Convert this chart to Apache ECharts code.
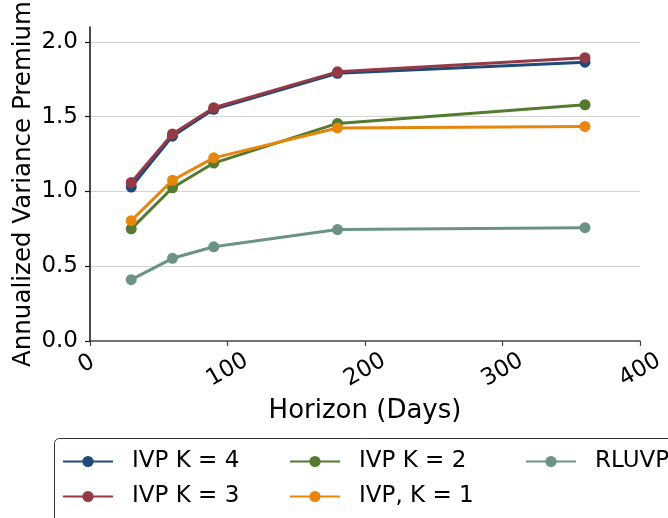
<!DOCTYPE html>
<html>
<head>
<meta charset="utf-8">
<script src="https://cdn.jsdelivr.net/npm/echarts@6/dist/echarts.min.js"></script>
<style>
  html, body { margin: 0; padding: 0; background: #fff; }
  #chart { width: 668px; height: 518px; }
</style>
</head>
<body>
<div id="chart"></div>
<script>
// Horizons in days
const horizons = [30, 60, 90, 180, 360];

// Annualized variance premium by model
const ivpK4 = [1.03, 1.37, 1.55, 1.79, 1.865];
const ivpK3 = [1.06, 1.385, 1.56, 1.80, 1.895];
const ivpK2 = [0.75, 1.025, 1.19, 1.455, 1.58];
const ivpK1 = [0.805, 1.075, 1.225, 1.425, 1.435];
const rluvp = [0.41, 0.553, 0.63, 0.745, 0.758];

const seriesNames = ['IVP K = 4', 'IVP K = 3', 'IVP K = 2', 'IVP, K = 1', 'RLUVP'];
const seriesValues = [ivpK4, ivpK3, ivpK2, ivpK1, rluvp];
const seriesColors = ['#1f4a78', '#943a46', '#537a2e', '#e8850c', '#6b9285'];

const yTicks = [0, 0.5, 1.0, 1.5, 2.0];

const FONT = 'DejaVu Sans';

const chart = echarts.init(document.getElementById('chart'), null, { renderer: 'canvas' });

const series = seriesNames.map((name, i) => ({
  name: name,
  type: 'line',
  data: horizons.map((h, j) => [h, seriesValues[i][j]]),
  symbol: 'circle',
  symbolSize: 11,
  color: seriesColors[i],
  lineStyle: { width: 3, color: seriesColors[i] },
  itemStyle: { color: seriesColors[i] },
  emphasis: { disabled: true },
  animation: false,
  z: 2 + i
}));

function legendColumn(names, left) {
  return {
    data: names,
    orient: 'vertical',
    left: left,
    top: 450,
    itemWidth: 50,
    itemHeight: 14,
    itemGap: 12,
    padding: 0,
    selectedMode: false,
    textStyle: {
      fontFamily: FONT,
      fontSize: 23,
      color: '#000',
      lineHeight: 23,
      padding: [0, 0, 0, 14]
    }
  };
}

const option = {
  backgroundColor: '#fff',
  animation: false,
  grid: { left: 90, right: 28, top: 27, bottom: 177, containLabel: false, outerBoundsMode: 'none' },
  xAxis: {
    type: 'value',
    min: 0,
    max: 400,
    interval: 100,
    name: 'Horizon (Days)',
    nameLocation: 'middle',
    nameGap: 57,
    nameMoveOverlap: false,
    nameTextStyle: { fontFamily: FONT, fontSize: 26, color: '#000' },
    axisLine: { show: true, lineStyle: { color: '#444', width: 1.5 } },
    axisTick: { show: true, length: 5, lineStyle: { color: '#444', width: 1.2 } },
    axisLabel: {
      rotate: 30,
      align: 'center',
      verticalAlign: 'middle',
      margin: 29,
      fontFamily: FONT,
      fontSize: 23,
      color: '#000',
      formatter: v => (v === 0 ? '{z|0}' : String(v)),
      rich: { z: { fontFamily: FONT, fontSize: 23, color: '#000', padding: [0, 0, 14, 0] } }
    },
    splitLine: { show: false }
  },
  yAxis: {
    type: 'value',
    min: 0,
    max: 2.1,
    interval: 0.5,
    name: 'Annualized Variance Premium',
    nameLocation: 'middle',
    nameGap: 54,
    nameMoveOverlap: false,
    nameTextStyle: { fontFamily: FONT, fontSize: 24.5, color: '#000' },
    axisLine: { show: true, lineStyle: { color: '#111', width: 1.5 } },
    axisTick: { show: true, length: 5, customValues: yTicks, lineStyle: { color: '#111', width: 1.2 } },
    axisLabel: {
      margin: 12,
      customValues: yTicks,
      fontFamily: FONT,
      fontSize: 23,
      color: '#000',
      formatter: v => v.toFixed(1)
    },
    splitLine: { show: true, showMinLine: false, lineStyle: { color: '#d3d3d3', width: 1 } }
  },
  legend: [
    legendColumn(['IVP K = 4', 'IVP K = 3'], 62),
    legendColumn(['IVP K = 2', 'IVP, K = 1'], 289),
    legendColumn(['RLUVP'], 525)
  ],
  graphic: [{
    type: 'rect',
    z: 1,
    shape: { x: 54.5, y: 438.5, width: 700, height: 200, r: 5 },
    style: { fill: '#fff', stroke: '#333', lineWidth: 1 }
  }],
  series: series
};

chart.setOption(option);
</script>
</body>
</html>
